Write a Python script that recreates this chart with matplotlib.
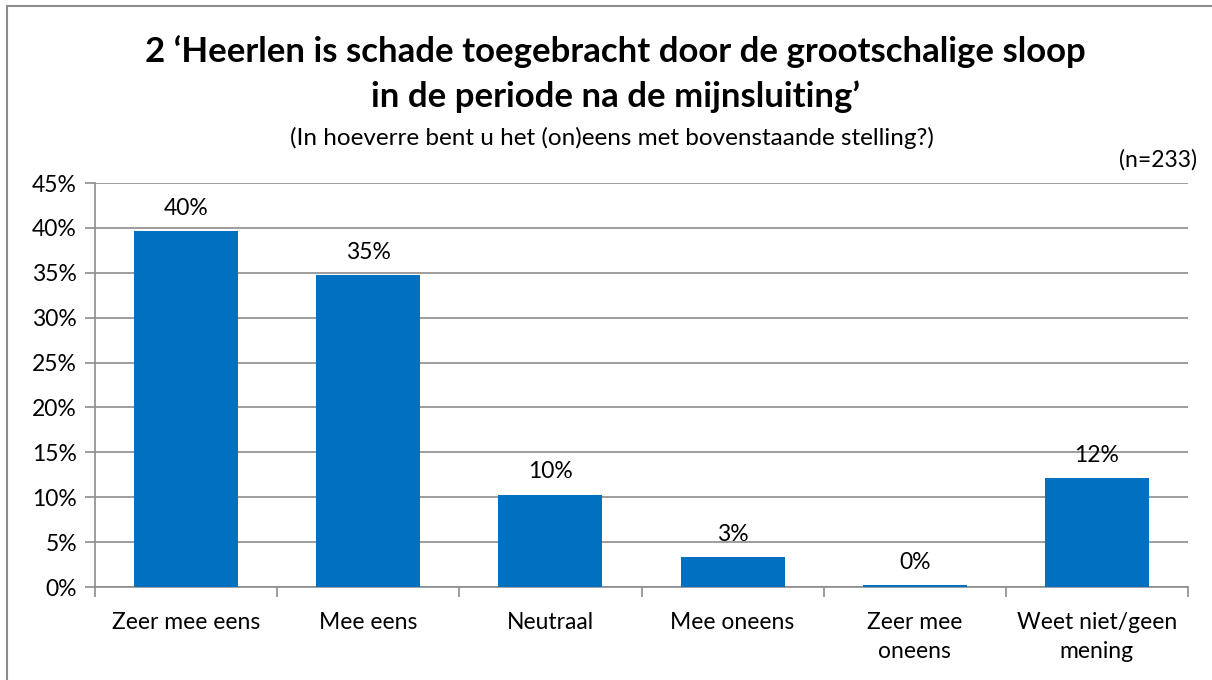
import matplotlib.pyplot as plt
import matplotlib.patches as mpatches
import numpy as np

categories = ['Zeer mee eens', 'Mee eens', 'Neutraal', 'Mee oneens',
              'Zeer mee\noneens', 'Weet niet/geen\nmening']
values = [39.6, 34.7, 10.3, 3.3, 0.2, 12.1]
labels = ['40%', '35%', '10%', '3%', '0%', '12%']
yticks = [0, 5, 10, 15, 20, 25, 30, 35, 40, 45]

plt.rcParams['font.family'] = ['Lato', 'DejaVu Sans']

W, H = 1212, 680
fig = plt.figure(figsize=(W / 100, H / 100), dpi=100)

# rand van de grafiek
fig.patches.append(mpatches.Rectangle((7 / W, -0.1), 1.2, 1 - 6 / H + 0.1,
                                      transform=fig.transFigure, fill=False,
                                      edgecolor='#8c8c8c', linewidth=1.5))

ax = fig.add_axes([95 / W, 1 - 587 / H, (1188 - 95) / W, (587 - 183) / H])
x = np.arange(len(categories))
ax.bar(x, values, width=0.57, color='#0070C0', zorder=3)
for xi, v, lab in zip(x, values, labels):
    ax.text(xi, v + 1.4, lab, ha='center', va='bottom', fontsize=16.5)

ax.set_xlim(-0.5, len(categories) - 0.5)
ax.set_ylim(0, 45)
ax.set_yticks(yticks)
ax.set_yticklabels([f'{t}%' for t in yticks], fontsize=16.5)
ax.yaxis.grid(True, color='#8c8c8c', linewidth=1.2, zorder=0)
ax.set_xticks(x)
ax.set_xticklabels(categories, fontsize=16.5, linespacing=1.5)
ax.set_xticks(np.arange(-0.5, len(categories)), minor=True)
ax.tick_params(axis='x', which='major', length=0, pad=18)
ax.tick_params(axis='x', which='minor', length=7, color='#8c8c8c', width=1.2)
ax.tick_params(axis='y', length=7, color='#8c8c8c', width=1.2, pad=6)
for s in ['top', 'right']:
    ax.spines[s].set_visible(False)
for s in ['left', 'bottom']:
    ax.spines[s].set_color('#8c8c8c')
    ax.spines[s].set_linewidth(1.2)

fig.text(0.508, 1 - 74 / H, "2 \u2018Heerlen is schade toegebracht door de grootschalige sloop\nin de periode na de mijnsluiting\u2019",
         ha='center', va='center', fontsize=25, fontweight='bold', linespacing=1.45)
fig.text(0.505, 1 - 138 / H, '(In hoeverre bent u het (on)eens met bovenstaande stelling?)',
         ha='center', va='center', fontsize=17.5)
fig.text(1197 / W, 1 - 160 / H, '(n=233)', ha='right', va='center', fontsize=16.5)

fig.savefig('out.png', dpi=100)
